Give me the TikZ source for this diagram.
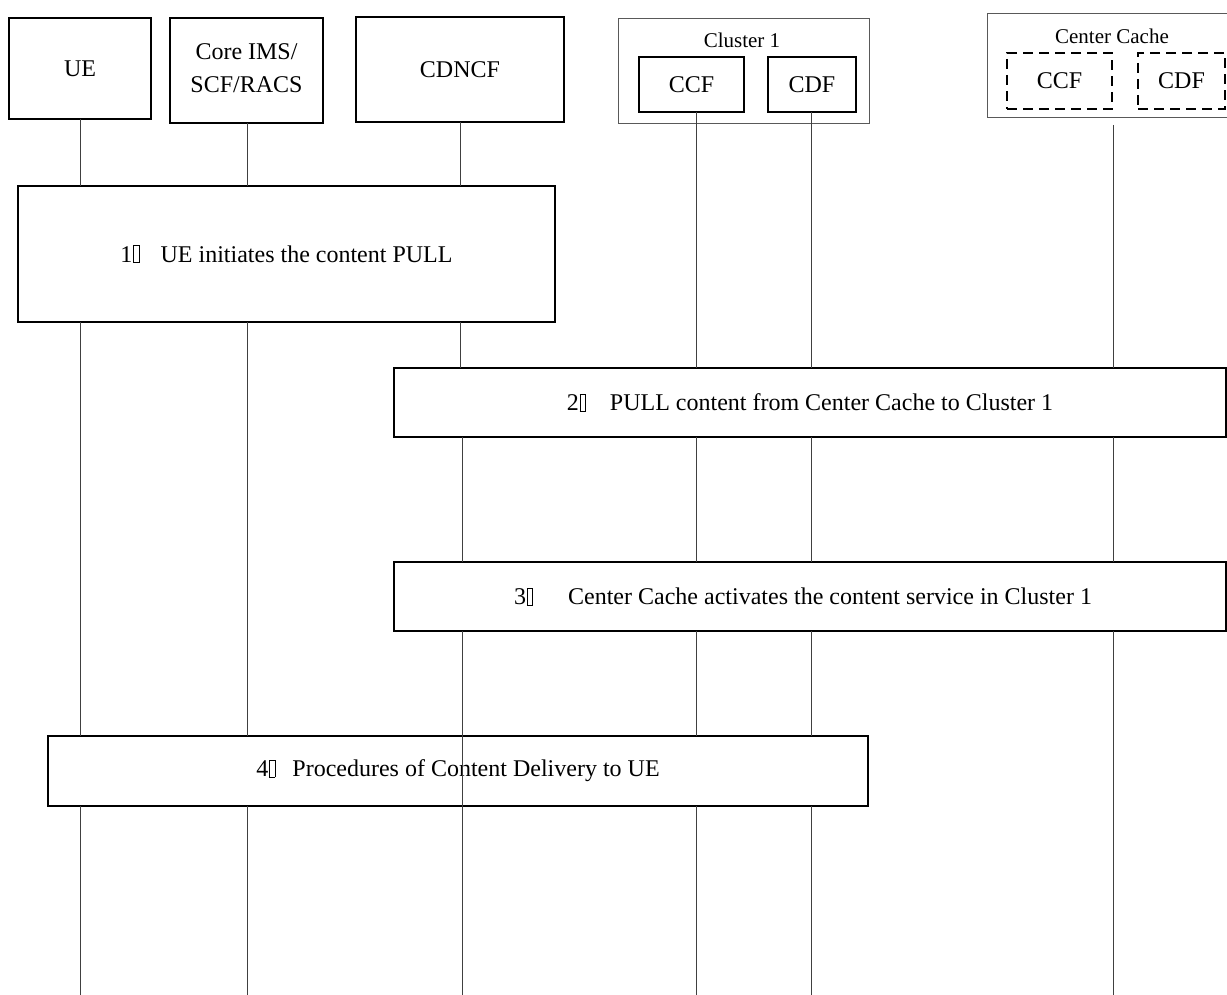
\documentclass[tikz,border=0pt]{standalone}
\usepackage{fontspec}
\setmainfont{Liberation Serif}
\newcommand{\nogl}{{\setlength{\fboxsep}{0pt}\setlength{\fboxrule}{0.8pt}\kern0.03em\fbox{\rule{0.2em}{0pt}\rule{0pt}{0.68em}}}}
\tikzset{
  entity/.style={draw, line width=1.3pt, inner sep=0pt, outer sep=0pt, align=center,
    font=\fontsize{24}{30}\selectfont},
  stepbox/.style={draw, line width=1.3pt, inner sep=0pt, outer sep=0pt,
    font=\fontsize{24}{30}\selectfont},
  groupbox/.style={draw=black!65, line width=0.9pt, inner sep=0pt, outer sep=0pt},
  dashbox/.style={draw, line width=1.3pt, dash pattern=on 10pt off 6pt, inner sep=0pt, outer sep=0pt,
    font=\fontsize{24}{30}\selectfont},
  grouplabel/.style={inner sep=0pt, font=\fontsize{21}{25}\selectfont},
  life/.style={draw=black!75, line width=0.9pt}
}
\begin{document}
\begin{tikzpicture}[x=1pt,y=-1pt]
\useasboundingbox (0,0) rectangle (1227,995);
% lifeline x positions
\coordinate (xUE) at (80,0);
\coordinate (xCore) at (247,0);
\coordinate (xCdn) at (460,0);
\coordinate (xCdnB) at (462,0);
\coordinate (xCcf) at (696,0);
\coordinate (xCdf) at (811,0);
\coordinate (xCc) at (1113,0);
\coordinate (bottom) at (0,995);

% entities
\node[entity, minimum width=142pt, minimum height=101pt] (ue) at (80,68.5) {UE};
\node[entity, minimum width=153pt, minimum height=105pt] (core) at (246.5,70.5)
  {\raisebox{7pt}{\begin{tabular}{@{}c@{}}Core IMS/\\[3pt]SCF/RACS\end{tabular}}};
\node[entity, minimum width=208pt, minimum height=105pt] (cdncf) at (460,69.5) {CDNCF};

\node[groupbox, minimum width=251pt, minimum height=105pt] (cl1) at (743.5,70.5) {};
\node[grouplabel] (cl1lab) at (742,40) {Cluster 1};
\node[entity, minimum width=105pt, minimum height=55pt] (ccf1) at (691.5,84.5) {CCF};
\node[entity, minimum width=88pt, minimum height=55pt] (cdf1) at (812,84.5) {CDF};

\node[groupbox, minimum width=242pt, minimum height=104pt] (cc) at (1108,65) {};
\node[grouplabel] (cclab) at (1112,36) {Center Cache};
\node[dashbox, minimum width=105pt, minimum height=56pt] (ccf2) at (1059.5,81) {CCF};
\node[dashbox, minimum width=87pt, minimum height=56pt] (cdf2) at (1181.5,81) {CDF};
\coordinate (ccstart) at (1113,125);

% steps
\node[stepbox, minimum width=537pt, minimum height=136pt] (s1) at (286.5,254)
  {1\nogl\hspace{21pt}UE initiates the content PULL};
\node[stepbox, minimum width=832pt, minimum height=69pt] (s2) at (810,402.5)
  {2\nogl\hspace{24pt}PULL content from Center Cache to Cluster 1};
\node[stepbox, minimum width=832pt, minimum height=69pt] (s3) at (810,596.5)
  {\hspace{-14pt}3\nogl\hspace{35pt}Center Cache activates the content service in Cluster 1};
\node[stepbox, minimum width=820pt, minimum height=70pt] (s4) at (458,771)
  {4\nogl\hspace{17pt}Procedures of Content Delivery to UE};

% lifelines
\draw[life] (ue.south) -- (s1.north -| xUE);
\draw[life] (s1.south -| xUE) -- (s4.north -| xUE);
\draw[life] (s4.south -| xUE) -- (bottom -| xUE);

\draw[life] (core.south -| xCore) -- (s1.north -| xCore);
\draw[life] (s1.south -| xCore) -- (s4.north -| xCore);
\draw[life] (s4.south -| xCore) -- (bottom -| xCore);

\draw[life] (cdncf.south -| xCdn) -- (s1.north -| xCdn);
\draw[life] (s1.south -| xCdn) -- (s2.north -| xCdn);
\draw[life] (s2.south -| xCdnB) -- (s3.north -| xCdnB);
\draw[life] (s3.south -| xCdnB) -- (bottom -| xCdnB);

\draw[life] (ccf1.south -| xCcf) -- (s2.north -| xCcf);
\draw[life] (s2.south -| xCcf) -- (s3.north -| xCcf);
\draw[life] (s3.south -| xCcf) -- (s4.north -| xCcf);
\draw[life] (s4.south -| xCcf) -- (bottom -| xCcf);

\draw[life] (cdf1.south -| xCdf) -- (s2.north -| xCdf);
\draw[life] (s2.south -| xCdf) -- (s3.north -| xCdf);
\draw[life] (s3.south -| xCdf) -- (s4.north -| xCdf);
\draw[life] (s4.south -| xCdf) -- (bottom -| xCdf);

\draw[life] (ccstart) -- (s2.north -| xCc);
\draw[life] (s2.south -| xCc) -- (s3.north -| xCc);
\draw[life] (s3.south -| xCc) -- (bottom -| xCc);
\end{tikzpicture}
\end{document}
